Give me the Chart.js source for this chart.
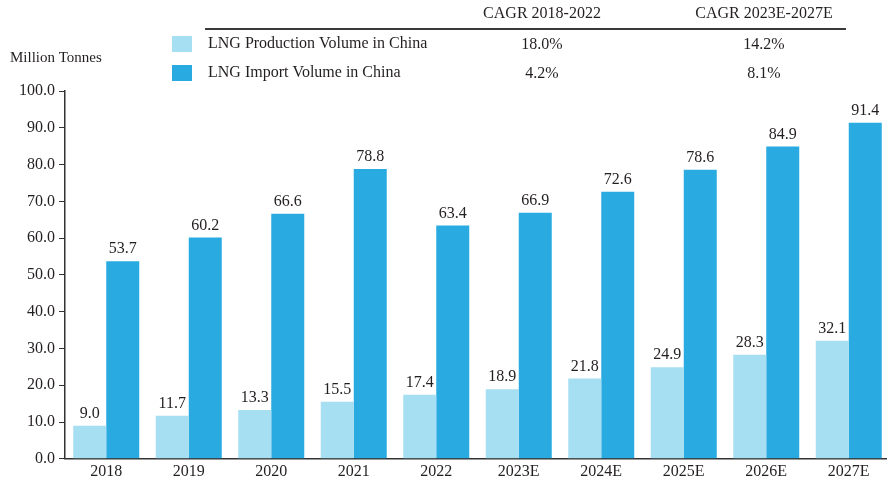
<!DOCTYPE html>
<html>
<head>
<meta charset="utf-8">
<script src="https://cdn.jsdelivr.net/npm/chart.js@4/dist/chart.umd.min.js"></script>
<style>
  html, body { margin: 0; padding: 0; background: #fff; overflow: hidden; }
  #wrap { width: 890px; height: 484px; position: relative; }
</style>
</head>
<body>
<div id="wrap"><canvas id="chart"></canvas></div>
<script>
// data
var years = ['2018', '2019', '2020', '2021', '2022', '2023E', '2024E', '2025E', '2026E', '2027E'];
var production = [9.0, 11.7, 13.3, 15.5, 17.4, 18.9, 21.8, 24.9, 28.3, 32.1];
var imports = [53.7, 60.2, 66.6, 78.8, 63.4, 66.9, 72.6, 78.6, 84.9, 91.4];
var seriesNames = ['LNG Production Volume in China', 'LNG Import Volume in China'];
var cagrHeads = ['CAGR 2018-2022', 'CAGR 2023E-2027E'];
var cagrProduction = ['18.0%', '14.2%'];
var cagrImport = ['4.2%', '8.1%'];

var lightBlue = '#a6def2';
var darkBlue = '#29aae1';
var txt = '#231f20';
var serif = '"Liberation Serif", "Times New Roman", serif';

// header: legend + CAGR table
var headerPlugin = {
    id: 'header',
    afterDraw: function(chart) {
        var ctx = chart.ctx;
        ctx.save();
        ctx.fillStyle = txt;
        ctx.font = '16px ' + serif;
        ctx.textBaseline = 'middle';
        ctx.textAlign = 'center';
        ctx.fillText(cagrHeads[0], 542, 14);
        ctx.fillText(cagrHeads[1], 764, 14);
        ctx.strokeStyle = '#3a3a3a';
        ctx.lineWidth = 2;
        ctx.beginPath();
        ctx.moveTo(205, 29);
        ctx.lineTo(846, 29);
        ctx.stroke();
        ctx.fillStyle = lightBlue;
        ctx.fillRect(172, 36, 20, 16);
        ctx.fillStyle = darkBlue;
        ctx.fillRect(172, 65, 20, 16);
        ctx.fillStyle = txt;
        ctx.textAlign = 'left';
        ctx.fillText(seriesNames[0], 208, 44);
        ctx.fillText(seriesNames[1], 208, 73);
        ctx.font = '15px ' + serif;
        ctx.fillText('Million Tonnes', 10, 58);
        ctx.font = '16px ' + serif;
        ctx.textAlign = 'center';
        ctx.fillText(cagrProduction[0], 542, 45);
        ctx.fillText(cagrProduction[1], 764, 45);
        ctx.fillText(cagrImport[0], 542, 74);
        ctx.fillText(cagrImport[1], 764, 74);
        ctx.restore();
    }
};

// value labels above bars
var labelPlugin = {
    id: 'barLabels',
    afterDatasetsDraw: function(chart) {
        var ctx = chart.ctx;
        ctx.save();
        ctx.fillStyle = txt;
        ctx.font = '16px ' + serif;
        ctx.textAlign = 'center';
        ctx.textBaseline = 'bottom';
        chart.data.datasets.forEach(function(ds, i) {
            chart.getDatasetMeta(i).data.forEach(function(bar, j) {
                ctx.fillText(ds.data[j].toFixed(1), bar.x, bar.y - 4);
            });
        });
        ctx.restore();
    }
};

new Chart(document.getElementById('chart'), {
    type: 'bar',
    data: {
        labels: years,
        datasets: [
            { label: seriesNames[0], data: production, backgroundColor: lightBlue },
            { label: seriesNames[1], data: imports, backgroundColor: darkBlue }
        ]
    },
    options: {
        responsive: true,
        maintainAspectRatio: false,
        animation: false,
        layout: { padding: { top: 91, right: 0, left: 15, bottom: 0 } },
        datasets: { bar: { categoryPercentage: 0.8, barPercentage: 1.0 } },
        plugins: {
            legend: { display: false },
            tooltip: { enabled: false }
        },
        scales: {
            x: {
                grid: { display: false, drawTicks: false },
                border: { display: true, color: '#333', width: 1.5 },
                ticks: { color: txt, font: { family: serif, size: 16 }, padding: 3 }
            },
            y: {
                min: 0,
                max: 100,
                ticks: {
                    stepSize: 10,
                    color: txt,
                    font: { family: serif, size: 16 },
                    padding: 4,
                    callback: function(v) { return v.toFixed(1); }
                },
                grid: { drawOnChartArea: false, drawTicks: true, tickLength: 6, color: '#333' },
                border: { display: true, color: '#333', width: 1.5 }
            }
        }
    },
    plugins: [headerPlugin, labelPlugin]
});
</script>
</body>
</html>
